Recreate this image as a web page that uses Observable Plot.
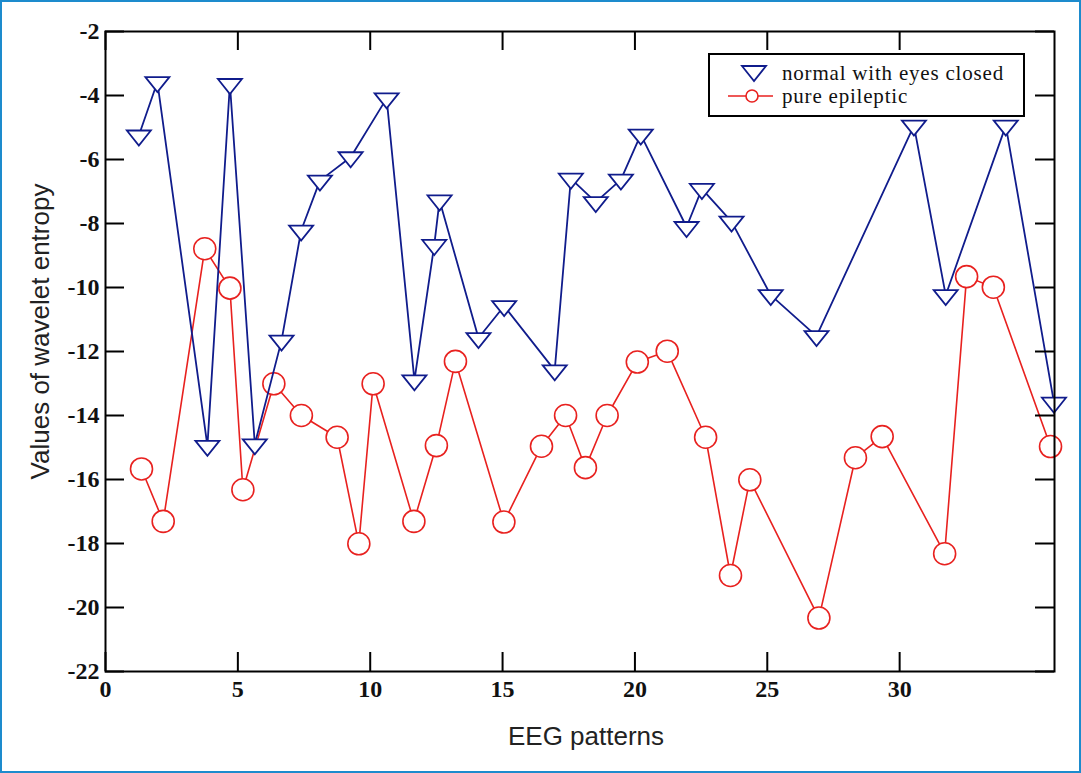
<!DOCTYPE html>
<html><head><meta charset="utf-8">
<script src="https://cdn.jsdelivr.net/npm/d3@7"></script>
<script src="https://cdn.jsdelivr.net/npm/@observablehq/plot@0.6"></script>
<style>
body{margin:0;background:#fff}
#wrap{position:relative;width:1081px;height:773px;overflow:hidden;background:#fff}
#wrap svg.plot{position:absolute;left:0;top:0}
#border{position:absolute;left:0;top:0;width:1081px;height:773px;box-sizing:border-box;border:2px solid #1d8bcd;pointer-events:none}
#legend{position:absolute;left:708px;top:53px}
</style></head>
<body><div id="wrap"><div id="border"></div></div>
<script>
// Series names
const seriesNames = ["normal with eyes closed", "pure epileptic"];
// normal with eyes closed
const normalX = [1.26,1.96,3.85,4.70,5.64,6.65,7.39,8.10,9.26,10.62,11.67,12.42,12.62,14.09,15.06,16.97,17.58,18.52,19.47,20.22,21.95,22.53,23.65,25.13,26.86,30.54,31.74,34.01,35.83];
const normalY = [-5.25,-3.58,-14.95,-3.64,-14.9,-11.66,-8.22,-6.66,-5.93,-4.09,-12.9,-8.67,-7.28,-11.58,-10.58,-12.59,-6.6,-7.33,-6.63,-5.22,-8.11,-6.92,-7.94,-10.24,-11.52,-4.94,-10.24,-4.94,-13.6];
// pure epileptic
const epiX = [1.36,2.18,3.75,4.70,5.19,6.36,7.40,8.75,9.57,10.11,11.65,12.50,13.22,15.05,16.47,17.38,18.13,18.95,20.09,21.22,22.67,23.61,24.34,26.95,28.33,29.34,31.70,32.53,33.54,35.70];
const epiY = [-15.67,-17.31,-8.79,-10.02,-16.32,-13.01,-14.0,-14.68,-18.01,-13.01,-17.31,-14.94,-12.31,-17.33,-14.96,-14.0,-15.63,-14.0,-12.33,-11.99,-14.68,-19.0,-16.01,-20.33,-15.32,-14.66,-18.32,-9.66,-9.99,-14.97];
// ticks
const xTicks = [0,5,10,15,20,25,30];
const yTicks = [-2,-4,-6,-8,-10,-12,-14,-16,-18,-20,-22];
const xTitle = "EEG patterns";
const yTitle = "Values of wavelet entropy";

const BLUE = "#101c8c", RED = "#e8211f";
const normal = normalX.map((x,i)=>({x, y: normalY[i]}));
const epi = epiX.map((x,i)=>({x, y: epiY[i]}));

const downTriangle = { draw(ctx) { ctx.moveTo(-12,-5); ctx.lineTo(12,-5); ctx.lineTo(0,10); ctx.closePath(); } };

const W = 1081, H = 773, mL = 105, mR = 27, mT = 31, mB = 102;
const plotW = W - mL - mR, plotH = H - mT - mB, TICK = 19;
const tickFont = {fontFamily: "'Liberation Serif', 'Times New Roman', serif", fontWeight: "bold", fontSize: 24, fill: "#111"};

const plot = Plot.plot({
  width: W, height: H,
  marginLeft: mL, marginRight: mR, marginTop: mT, marginBottom: mB,
  x: {domain: [0, 35.85]},
  y: {domain: [-22, -2]},
  style: {background: "transparent", overflow: "visible"},
  marks: [
    Plot.line(epi, {x: "x", y: "y", stroke: RED, strokeWidth: 1.6}),
    Plot.dot(epi, {x: "x", y: "y", r: 11, stroke: RED, fill: "white", strokeWidth: 1.6}),
    Plot.line(normal, {x: "x", y: "y", stroke: BLUE, strokeWidth: 1.8}),
    Plot.dot(normal, {x: "x", y: "y", symbol: downTriangle, stroke: BLUE, fill: "white", strokeWidth: 1.8}),
    Plot.tickX(xTicks, {x: d => d, insetTop: plotH - TICK, stroke: "black", strokeWidth: 2}),
    Plot.tickX(xTicks, {x: d => d, insetBottom: plotH - TICK, stroke: "black", strokeWidth: 2}),
    Plot.tickY(yTicks, {y: d => d, insetRight: plotW - TICK, stroke: "black", strokeWidth: 2}),
    Plot.tickY(yTicks, {y: d => d, insetLeft: plotW - TICK, stroke: "black", strokeWidth: 2}),
    Plot.frame({stroke: "black", strokeWidth: 2}),
    Plot.axisX(xTicks, {tickSize: 0, tickPadding: 8, tickFormat: d => String(d), label: null, ...tickFont}),
    Plot.axisY(yTicks, {tickSize: 0, tickPadding: 6, tickFormat: d => String(d), label: null, ...tickFont}),
    Plot.text([xTitle], {text: d => d, frameAnchor: "bottom", textAnchor: "middle", dx: 6, dy: 73, fontFamily: "'Liberation Sans', Arial, sans-serif", fontSize: 26, fill: "#222"}),
    Plot.text([yTitle], {text: d => d, frameAnchor: "left", textAnchor: "middle", dx: -65, dy: -20, rotate: -90, fontFamily: "'Liberation Sans', Arial, sans-serif", fontSize: 26, fill: "#222"})
  ]
});
plot.classList.add("plot");
const wrap = document.getElementById("wrap");
wrap.insertBefore(plot, document.getElementById("border"));

// Legend
const ns = "http://www.w3.org/2000/svg";
const lg = document.createElementNS(ns, "svg");
lg.setAttribute("id", "legend");
lg.setAttribute("width", 317); lg.setAttribute("height", 64);
const lf = `font-family="'Liberation Serif', 'Times New Roman', serif" font-size="21" letter-spacing="0.8" fill="#111"`;
lg.innerHTML = `
  <rect x="1" y="1" width="315" height="62" fill="white" stroke="black" stroke-width="2"/>
  <path d="M34,13 L58,13 L46,28 Z" fill="white" stroke="${BLUE}" stroke-width="1.8"/>
  <line x1="20" x2="65" y1="43" y2="43" stroke="${RED}" stroke-width="1.6"/>
  <circle cx="44" cy="43" r="6" fill="white" stroke="${RED}" stroke-width="1.6"/>
  <text x="74" y="27" ${lf}>${seriesNames[0]}</text>
  <text x="74" y="50" ${lf}>${seriesNames[1]}</text>`;
wrap.appendChild(lg);
</script>
</body></html>
